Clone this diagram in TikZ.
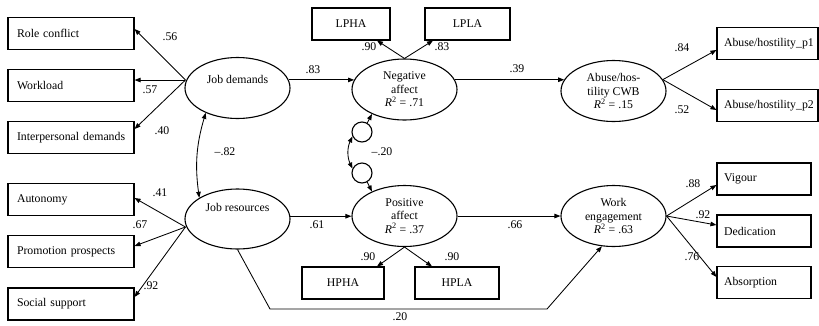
\documentclass[tikz,border=0pt]{standalone}
\usepackage{fontspec}
\setmainfont{Liberation Serif}
\usetikzlibrary{shapes.geometric,arrows.meta,calc}
\begin{document}
\begin{tikzpicture}[x=1pt,y=-1pt,
  every node/.style={font=\fontsize{11.8}{13.5}\selectfont},
  obs/.style={draw,line width=1.1pt,minimum height=32pt,inner sep=0pt},
  obsl/.style={obs,text width=114pt,inner xsep=6pt,align=left},
  obsr/.style={obs,text width=#1,inner xsep=7pt,align=left},
  obsc/.style={obs,minimum width=#1},
  lat/.style={draw,ellipse,line width=1.1pt,minimum width=105pt,minimum height=61pt,inner sep=0pt,align=center},
  res/.style={draw,circle,line width=1.1pt,minimum size=20pt,inner sep=0pt},
  lab/.style={inner sep=0pt},
  arr/.style={line width=0.85pt,-{Triangle[length=6pt,width=4.5pt]}},
  darr/.style={line width=0.85pt,{Triangle[length=6pt,width=4.5pt]}-{Triangle[length=6pt,width=4.5pt]}}
]
\useasboundingbox (0,0) rectangle (819,325);

% observed indicators, left
\node[obsl] (role)   at (71,33.5)  {\hspace*{3pt}Role conflict};
\node[obsl] (work)   at (71,85.5)  {\hspace*{3pt}Workload};
\node[obsl] (inter)  at (71,137.5) {\hspace*{3pt}Interpersonal demands};
\node[obsl] (auto)   at (71,199.5) {\hspace*{3pt}Autonomy};
\node[obsl] (promo)  at (71,251.5) {\hspace*{3pt}Promotion prospects};
\node[obsl] (social) at (71,304)   {\hspace*{3pt}Social support};

% observed indicators, right
\node[obsr=87pt] (p1)  at (767.5,43.5)  {Abuse/hostility\_p1};
\node[obsr=87pt] (p2)  at (767.5,105.5) {Abuse/hostility\_p2};
\node[obsr=80pt] (vig) at (764,179)     {Vigour};
\node[obsr=80pt] (ded) at (764,231)     {Dedication};
\node[obsr=80pt] (abs) at (764,282.5)   {Absorption};

% observed indicators, middle
\node[obsc=78pt] (lpha) at (351,24)    {LPHA};
\node[obsc=85pt] (lpla) at (467.5,24)  {LPLA};
\node[obsc=82pt] (hpha) at (343,283)   {HPHA};
\node[obsc=84pt] (hpla) at (457,283)   {HPLA};

% latent variables
\node[lat] (jd) at (237.5,88) {};
\node[lab] (jdtext) at (237.5,79) {Job demands};
\node[lat,minimum height=60pt] (jr) at (237.5,219) {};
\node[lab] (jrtext) at (237.5,207) {Job resources};
\node[lat] (na)  at (404.5,89.5) {Negative\\affect\\\textit{R}\textsuperscript{2} = .71};
\node[lat] (pa)  at (404.5,216)  {Positive\\affect\\\textit{R}\textsuperscript{2} = .37};
\node[lat] (cwb) at (613.5,91)   {Abuse/hos-\\tility CWB\\\textit{R}\textsuperscript{2} = .15};
\node[lat] (we)  at (613.5,216)  {Work\\engagement\\\textit{R}\textsuperscript{2} = .63};

% residuals
\node[res] (c1) at (362,132) {};
\node[res] (c2) at (362,173) {};

% measurement paths
\coordinate (jdl) at ($(jd.west)+(1,-8)$);
\coordinate (jrl) at ($(jr.west)+(1,8)$);
\draw[arr] (jdl) -- ($(role.east)+(0,-4.5)$);
\draw[arr] (jdl) -- ($(work.east)+(0,-5.5)$);
\draw[arr] (jdl) -- ($(inter.east)+(0,-8.5)$);
\draw[arr] (jrl) -- ($(auto.east)+(0,-1.5)$);
\draw[arr] (jrl) -- ($(promo.east)+(0,-5.5)$);
\draw[arr] (jrl) -- ($(social.east)+(0,-7)$);

\draw[arr] (na.north) -- ($(lpha.south)+(26,0)$);
\draw[arr] (na.north) -- ($(lpla.south)+(-34.5,0)$);
\draw[arr] (pa.south) -- ($(hpha.north)+(34,0)$);
\draw[arr] (pa.south) -- ($(hpla.north)+(-25,0)$);

\draw[arr] (cwb.13) -- ($(p1.west)+(0,6.5)$);
\draw[arr] (cwb.13) -- ($(p2.west)+(0,4.5)$);
\draw[arr] (we.east) -- ($(vig.west)+(0,6)$);
\draw[arr] (we.east) -- ($(ded.west)+(0,-6)$);
\draw[arr] (we.east) -- ($(abs.west)+(0,-5.5)$);

% structural paths
\draw[arr] (jd.9) -- (jd.9 -| na.169);
\draw[arr] (na.11) -- (na.11 -| cwb.167);
\draw[arr] (jr.3) -- (jr.3 -| pa.west);
\draw[arr] (pa.east) -- (we.west);
\draw[arr] (jr.south) -- (270,309) -- (547,309) -- (we.249);

% correlations and residuals
\draw[darr] (jd.218) to[bend right=12] (jr.151);
\draw[arr] (c1.60) -- (na.217);
\draw[arr] (c2.-60) -- (pa.143);
\draw[darr] (c1.205) to[bend right=25] (c2.155);

% coefficients
\node[lab] (l56) at (170,37)  {.56};
\node[lab] (l57) at (150,90)  {.57};
\node[lab] (l40) at (162,131) {.40};
\node[lab] (l41) at (160,193) {.41};
\node[lab] (l67) at (140,225) {.67};
\node[lab] (l92a) at (151,286) {.92};
\node[lab] (l82) at (225,152) {\textendash.82};
\node[lab] (l83a) at (313,70) {.83};
\node[lab] (l90a) at (369,47) {.90};
\node[lab] (l83b) at (442,47) {.83};
\node[lab] (l39) at (517,69)  {.39};
\node[lab] (l20a) at (382,152) {\textendash.20};
\node[lab] (l61) at (317,225) {.61};
\node[lab] (l66) at (515,225) {.66};
\node[lab] (l90b) at (368,257) {.90};
\node[lab] (l90c) at (452,257) {.90};
\node[lab] (l20b) at (400,317) {.20};
\node[lab] (l84) at (682,48)  {.84};
\node[lab] (l52) at (682,110) {.52};
\node[lab] (l88) at (693,184) {.88};
\node[lab] (l92b) at (703,215) {.92};
\node[lab] (l76) at (692,257) {.76};
\end{tikzpicture}
\end{document}
